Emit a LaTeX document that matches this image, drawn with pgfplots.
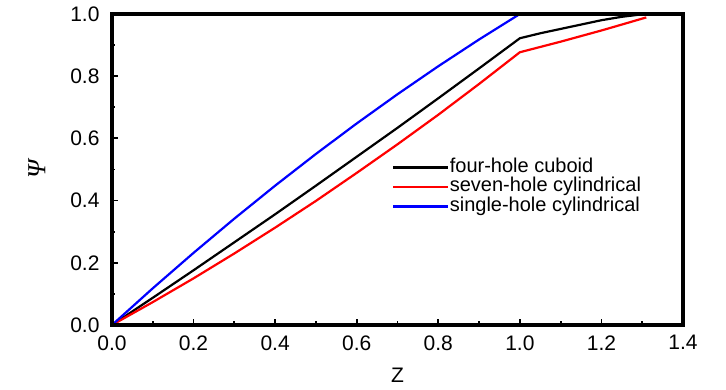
\documentclass[border=0pt]{standalone}
\usepackage{pgfplots}
\pgfplotsset{compat=1.18}
\usepackage{fontspec}
\setmainfont{Liberation Sans}
\newfontfamily\serifit{Liberation Serif}
\begin{document}
\begin{tikzpicture}
\useasboundingbox (-112pt,-65pt) rectangle (614pt,325pt);
\begin{axis}[
  at={(0pt,0pt)}, anchor=south west,
  scale only axis, width=571pt, height=311pt,
  xmin=0, xmax=1.4, ymin=0, ymax=1.0,
  xtick={0,0.2,...,1.4}, ytick={0,0.2,...,1.0},
  minor tick num=1,
  xtick pos=left, ytick pos=left,
  tick align=inside,
  major tick length=6pt, minor tick length=3.5pt,
  axis line style={line width=3.2pt},
  tick style={line width=1.8pt, black},
  /pgf/number format/assume math mode=true,
  /pgf/number format/fixed, /pgf/number format/fixed zerofill,
  /pgf/number format/precision=1,
  tick label style={font=\fontsize{21}{24}\selectfont},
  label style={font=\fontsize{21}{24}\selectfont},
  yticklabel style={xshift=-9pt},
  xticklabel style={yshift=-7pt},
  xlabel={Z}, ylabel={{\serifit\itshape\fontsize{26}{28}\selectfont Ψ}},
  xlabel style={yshift=-11pt},
  ylabel style={yshift=18pt},
  legend style={at={(0.485,0.545)}, anchor=north west, draw=none, fill=none,
    font=\fontsize{20}{20}\selectfont, row sep=0pt,
    nodes={inner sep=0.5pt, text height=14pt, text depth=4.5pt}},
  legend cell align=left,
  legend image code/.code={\draw[#1] (0pt,0pt) -- (55pt,0pt);},
  after end axis/.code={\draw[line width=3.2pt, line join=miter] (rel axis cs:0,0) rectangle (rel axis cs:1,1);},
]
\addplot[black, line width=2.2pt] coordinates {
(0,0) (0.1,0.0875) (0.2,0.176) (0.3,0.266) (0.4,0.356) (0.5,0.448) (0.6,0.541)
(0.7,0.634) (0.8,0.729) (0.9,0.825) (1.0,0.922) (1.05,0.938) (1.1,0.952)
(1.15,0.966) (1.2,0.980) (1.25,0.991) (1.30,0.999)};
\addlegendentry{four-hole cuboid}
\addplot[red, line width=2.2pt] coordinates {
(0,0) (0.1,0.0736) (0.2,0.150) (0.3,0.230) (0.4,0.313) (0.5,0.399) (0.6,0.489)
(0.7,0.581) (0.8,0.676) (0.9,0.775) (1.0,0.877) (1.05,0.894) (1.1,0.911)
(1.15,0.929) (1.2,0.947) (1.25,0.966) (1.31,0.989)};
\addlegendentry{seven-hole cylindrical}
\addplot[blue, line width=2.2pt] coordinates {
(0,0) (0.1,0.118) (0.2,0.232) (0.3,0.342) (0.4,0.448) (0.5,0.55) (0.6,0.648)
(0.7,0.742) (0.8,0.832) (0.9,0.918) (1.0,1.0)};
\addlegendentry{single-hole cylindrical}
\end{axis}
\end{tikzpicture}
\end{document}
